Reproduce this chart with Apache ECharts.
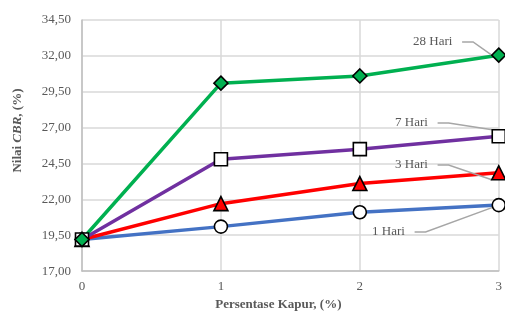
<!DOCTYPE html>
<html>
<head>
<meta charset="utf-8">
<script src="https://cdn.jsdelivr.net/npm/echarts@6/dist/echarts.min.js"></script>
<style>
  html, body { margin: 0; padding: 0; background: #fff; }
  #chart { width: 505px; height: 316px; }
</style>
</head>
<body>
<div id="chart"></div>
<script>
// kadar kapur (%)
const kapur = [0, 1, 2, 3]
// nilai CBR tiap umur pemeraman
const hari1 = [19.2, 20.1, 21.1, 21.6]
const hari3 = [19.2, 21.7, 23.1, 23.85]
const hari7 = [19.2, 24.8, 25.5, 26.4]
const hari28 = [19.2, 30.1, 30.6, 32.05]
const seriesNames = ['1 Hari', '3 Hari', '7 Hari', '28 Hari']

const serif = '"Liberation Serif", "DejaVu Serif", serif'

// posisi label (kiri teks) untuk titik terakhir tiap seri
const labelPos = {
  '1 Hari': { x: 372, y: 232 },
  '3 Hari': { x: 395, y: 165 },
  '7 Hari': { x: 395, y: 123 },
  '28 Hari': { x: 413, y: 42 }
}

function makeData (vals, name) {
  return vals.map((v, i) => {
    let item = { value: [kapur[i], v] }
    if (i === vals.length - 1) {
      // spasi di belakang = jarak antara teks dan garis penunjuk
      item.label = { show: true, formatter: name + '\u00a0\u00a0\u00a0' }
    }
    return item
  })
}

function makeSeries (name, vals, color, symbol, fill, size) {
  return {
    name: name,
    type: 'line',
    data: makeData(vals, name),
    clip: false,
    lineStyle: { color: color, width: 3.5 },
    symbol: symbol,
    symbolSize: size,
    itemStyle: { color: fill, borderColor: '#000', borderWidth: 1.6 },
    label: {
      show: false,
      fontFamily: serif,
      fontSize: 13,
      color: '#595959'
    },
    labelLayout: {
      x: labelPos[name].x,
      y: labelPos[name].y,
      align: 'left',
      verticalAlign: 'middle'
    },
    labelLine: {
      show: true,
      length2: 11,
      lineStyle: { color: '#A6A6A6', width: 1.5 }
    },
    emphasis: { disabled: true }
  }
}

const chart = echarts.init(document.getElementById('chart'))
const option = {
  animation: false,
  grid: { left: 82, right: 4, top: 20, bottom: 43 },
  xAxis: {
    type: 'value',
    min: 0,
    max: 3,
    interval: 1,
    name: 'Persentase Kapur, (%)',
    nameLocation: 'middle',
    nameGap: 24,
    nameTextStyle: {
      fontFamily: serif, fontSize: 13, fontWeight: 'bold', color: '#595959',
      padding: [0, 24, 0, 0]
    },
    axisLine: { lineStyle: { color: '#BFBFBF', width: 1.5 } },
    axisTick: { show: false },
    axisLabel: { fontFamily: serif, fontSize: 13, color: '#595959', margin: 9 },
    splitLine: { show: true, lineStyle: { color: '#D9D9D9', width: 1.5 } }
  },
  yAxis: {
    type: 'value',
    min: 17,
    max: 34.5,
    interval: 2.5,
    name: 'Nilai {i|CBR}, (%)',
    nameLocation: 'middle',
    nameGap: 58,
    nameTextStyle: {
      fontFamily: serif, fontSize: 13, fontWeight: 'bold', color: '#595959',
      padding: [0, 0, 0, 30],
      rich: {
        i: { fontFamily: serif, fontSize: 13, fontWeight: 'bold', fontStyle: 'italic', color: '#595959' }
      }
    },
    axisLine: { show: true, lineStyle: { color: '#BFBFBF', width: 1.5 } },
    axisTick: { show: false },
    axisLabel: {
      fontFamily: serif, fontSize: 13, color: '#595959', margin: 11,
      formatter: v => v.toFixed(2).replace('.', ',')
    },
    splitLine: { show: true, lineStyle: { color: '#D9D9D9', width: 1.5 } }
  },
  series: [
    makeSeries(seriesNames[0], hari1, '#4472C4', 'circle', '#FFFFFF', 13),
    makeSeries(seriesNames[1], hari3, '#FF0000', 'triangle', '#FF0000', 14),
    makeSeries(seriesNames[2], hari7, '#7030A0', 'rect', '#FFFFFF', 13),
    makeSeries(seriesNames[3], hari28, '#00B050', 'diamond', '#00B050', 14)
  ]
}
chart.setOption(option)
</script>
</body>
</html>
